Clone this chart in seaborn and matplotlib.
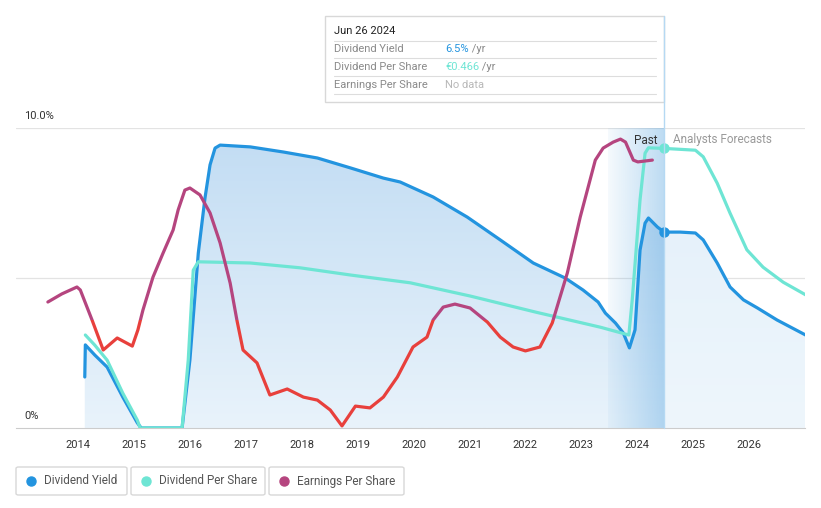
import numpy as np
import seaborn as sns
import matplotlib
matplotlib.use("Agg")
import matplotlib.pyplot as plt
from matplotlib.colors import LinearSegmentedColormap, to_rgb
from matplotlib.patches import Rectangle, FancyBboxPatch
from matplotlib.lines import Line2D

sns.set_style("white")
plt.rcParams["font.family"] = ["Roboto", "DejaVu Sans"]
plt.rcParams["lines.solid_joinstyle"] = "round"
plt.rcParams["lines.solid_capstyle"] = "round"

# ---- data ----
yield_years = [2014.12, 2014.13, 2014.30, 2014.52, 2014.80, 2015.06, 2015.13, 2015.86,
               2016.00, 2016.15, 2016.27, 2016.36, 2016.45, 2016.54, 2017.08, 2017.67,
               2018.28, 2018.87, 2019.46, 2019.76, 2020.35, 2020.96, 2021.55, 2022.14,
               2022.71, 2023.03, 2023.30, 2023.43, 2023.61, 2023.75, 2023.86, 2023.96,
               2024.05, 2024.14, 2024.20, 2024.36, 2024.48, 2024.77, 2025.04, 2025.18,
               2025.43, 2025.66, 2025.90, 2026.15, 2026.50, 2027.01]
yield_pct = [1.70, 2.77, 2.43, 2.03, 1.03, 0.17, 0.0, 0.0,
             2.27, 5.83, 7.67, 8.77, 9.33, 9.43, 9.37, 9.2,
             9.0, 8.67, 8.33, 8.2, 7.7, 7.03, 6.27, 5.5,
             5.0, 4.6, 4.2, 3.83, 3.5, 3.17, 2.67, 3.27,
             5.93, 6.83, 7.0, 6.7, 6.53, 6.53, 6.5, 6.27,
             5.5, 4.7, 4.27, 4.0, 3.6, 3.1]

dps_years = [2014.13, 2014.30, 2014.52, 2014.80, 2015.06, 2015.11, 2015.86, 2015.97,
             2016.06, 2016.15, 2017.08, 2017.97, 2018.87, 2019.94, 2021.01, 2022.19,
             2023.34, 2023.85, 2023.91, 2024.05, 2024.14, 2024.20, 2024.48, 2025.04,
             2025.18, 2025.43, 2025.66, 2025.96, 2026.25, 2026.61, 2027.01]
dps_eur = [0.155, 0.138, 0.113, 0.058, 0.013, 0.0, 0.0, 0.113,
           0.263, 0.277, 0.275, 0.267, 0.255, 0.242, 0.220, 0.193,
           0.168, 0.155, 0.213, 0.38, 0.458, 0.467, 0.466, 0.463,
           0.452, 0.408, 0.358, 0.297, 0.268, 0.243, 0.222]

eps_years = [2013.46, 2013.71, 2013.98, 2014.04, 2014.25, 2014.45, 2014.70, 2014.97, 2015.07, 2015.16,
             2015.34, 2015.52, 2015.70, 2015.79, 2015.91, 2016.00, 2016.18, 2016.36, 2016.54, 2016.72,
             2016.84, 2016.95, 2017.20, 2017.43, 2017.74, 2018.03, 2018.28, 2018.51, 2018.72, 2018.96,
             2019.22, 2019.46, 2019.71, 2019.99, 2020.24, 2020.35, 2020.53, 2020.74, 2021.01, 2021.32,
             2021.55, 2021.78, 2022.00, 2022.26, 2022.48, 2022.62, 2022.75, 2022.98, 2023.25, 2023.39,
             2023.57, 2023.70, 2023.79, 2023.93, 2024.01, 2024.27]
eps_eur = [0.420, 0.447, 0.470, 0.460, 0.360, 0.260, 0.300, 0.273, 0.327, 0.393,
           0.503, 0.583, 0.660, 0.727, 0.793, 0.800, 0.777, 0.717, 0.617, 0.483,
           0.360, 0.260, 0.217, 0.110, 0.130, 0.103, 0.093, 0.060, 0.007, 0.073,
           0.067, 0.103, 0.170, 0.270, 0.303, 0.360, 0.403, 0.413, 0.400, 0.353,
           0.303, 0.270, 0.257, 0.270, 0.350, 0.437, 0.517, 0.703, 0.893, 0.933,
           0.953, 0.963, 0.953, 0.893, 0.887, 0.893]
eps_low = 0.36  # below this EPS is drawn red

year_ticks = list(range(2014, 2027))
today = 2024.48
past_start = 2023.48

BLUE = "#2394df"
TEAL = "#6ee5d4"
PURPLE = "#b5457f"
RED = "#e8403c"

W, H = 821, 508
fig = plt.figure(figsize=(W / 100, H / 100), dpi=100)
ax = fig.add_axes([16 / W, 80 / H, 789 / W, 300 / H])
ax.set_xlim(2012.89, 2027.0)
ax.set_ylim(0, 10)

# gradient fill under dividend yield
poly = ax.fill_between(yield_years, yield_pct, 0, color="none", lw=0)
clip = poly.get_paths()[0]
grad = np.linspace(0, 1, 256).reshape(-1, 1)
past_cmap = LinearSegmentedColormap.from_list("p", ["#e9f3fb", "#c1dcf3"])
fut_cmap = LinearSegmentedColormap.from_list("f", ["#eef6fc", "#e2eff9"])
for (x0, x1), cm in [((2014.0, today), past_cmap), ((today, 2027.1), fut_cmap)]:
    im = ax.imshow(grad, extent=[x0, x1, 0, 10], origin="lower", aspect="auto",
                   cmap=cm, zorder=1)
    im.set_clip_path(clip, transform=ax.transData)

# past band
band = np.zeros((2, 256, 4))
band[..., :3] = to_rgb("#5aa6e0")
band[..., 3] = np.linspace(0.06, 0.4, 256)
ax.imshow(band, extent=[past_start, today, 0, 10], aspect="auto", zorder=2)
ax.set_xlim(2012.89, 2027.0)
ax.set_ylim(0, 10)

for g in (5, 10):
    ax.axhline(g, color="#e3e3e3", lw=0.9, zorder=0.5)

sns.lineplot(x=yield_years, y=yield_pct, ax=ax, color=BLUE, lw=2.3,
             sort=False, estimator=None, zorder=4)
ax.plot([today], [6.53], "o", color=BLUE, ms=6.5, zorder=5)

ax2 = ax.twinx()
ax2.set_ylim(0, 0.5)
sns.lineplot(x=dps_years, y=dps_eur, ax=ax2, color=TEAL, lw=2.3,
             sort=False, estimator=None)
ax2.plot([today], [0.466], "o", color=TEAL, ms=6.5)

ax3 = ax.twinx()
ax3.set_ylim(0, 1.0)
sns.lineplot(x=eps_years, y=eps_eur, ax=ax3, color=PURPLE, lw=2.3,
             sort=False, estimator=None)
sns.lineplot(x=eps_years, y=eps_eur, ax=ax3, color=RED, lw=2.3,
             sort=False, estimator=None)
hi, lo = ax3.lines[0], ax3.lines[1]
hi.set_clip_path(Rectangle((2012, eps_low), 20, 2, transform=ax3.transData))
lo.set_clip_path(Rectangle((2012, -1), 20, 1 + eps_low, transform=ax3.transData))

for a in (ax, ax2, ax3):
    a.set_xlim(2012.89, 2027.0)
    a.set_ylabel("")
    a.set_yticks([])
    for s in a.spines.values():
        s.set_visible(False)
ax.spines["bottom"].set_visible(True)
ax.spines["bottom"].set_color("#cccccc")
ax.set_xticks(year_ticks)
ax.set_xticklabels([str(y) for y in year_ticks], fontsize=8, color="#333333")
ax.tick_params(axis="x", length=4, color="#d0d0d0", pad=5)


def fx(px):
    return px / W


def fy(py):
    return 1 - py / H


# today line
fig.add_artist(Line2D([fx(664), fx(664)], [fy(428), fy(16)], color="#b5d9f3", lw=1))

fig.text(fx(24), fy(116), "10.0%", fontsize=8, color="#333333", va="center")
fig.text(fx(24), fy(416), "0%", fontsize=8, color="#333333", va="center")
fig.text(fx(657), fy(140), "Past", fontsize=8.5, color="#333333", va="center", ha="right")
fig.text(fx(673), fy(140), "Analysts Forecasts", fontsize=8.5, color="#999999", va="center")

# tooltip
fig.add_artist(Rectangle((fx(325), fy(102)), 339 / W, 86 / H, transform=fig.transFigure,
                         fc="white", ec="#d8d8d8", lw=1))
fig.text(fx(334), fy(31), "Jun 26 2024", fontsize=8, color="#222222", va="center")
for py in (41, 58, 76, 94):
    fig.add_artist(Line2D([fx(334), fx(656)], [fy(py), fy(py)], color="#dddddd", lw=0.8))
rows = [("Dividend Yield", "6.5%", BLUE, " /yr"),
        ("Dividend Per Share", "€0.466", TEAL, " /yr"),
        ("Earnings Per Share", "No data", "#b8b8b8", "")]
for i, (lab, val, col, suf) in enumerate(rows):
    py = 49 + i * 18
    fig.text(fx(334), fy(py), lab, fontsize=8, color="#8a8a8a", va="center")
    t = fig.text(fx(445), fy(py), val, fontsize=8, color=col, va="center")
    if suf:
        fig.canvas.draw()
        bb = t.get_window_extent()
        fig.text(bb.x1 / W, fy(py), suf, fontsize=8, color="#8a8a8a", va="center")

# legend boxes
legend_items = [("Dividend Yield", BLUE, 16, 127),
                ("Dividend Per Share", TEAL, 131, 265),
                ("Earnings Per Share", PURPLE, 269, 404)]
for lab, col, x0, x1 in legend_items:
    fig.add_artist(FancyBboxPatch((fx(x0), fy(495)), (x1 - x0) / W, 28 / H,
                                  boxstyle="round,pad=0,rounding_size=0.003",
                                  transform=fig.transFigure, fc="white", ec="#d8d8d8", lw=1))
    fig.add_artist(Line2D([fx(x0 + 15)], [fy(481)], marker="o", color=col, ms=6.5, lw=0))
    fig.text(fx(x0 + 28), fy(481), lab, fontsize=8.5, color="#555555", va="center")

fig.savefig("out.png", dpi=100)
